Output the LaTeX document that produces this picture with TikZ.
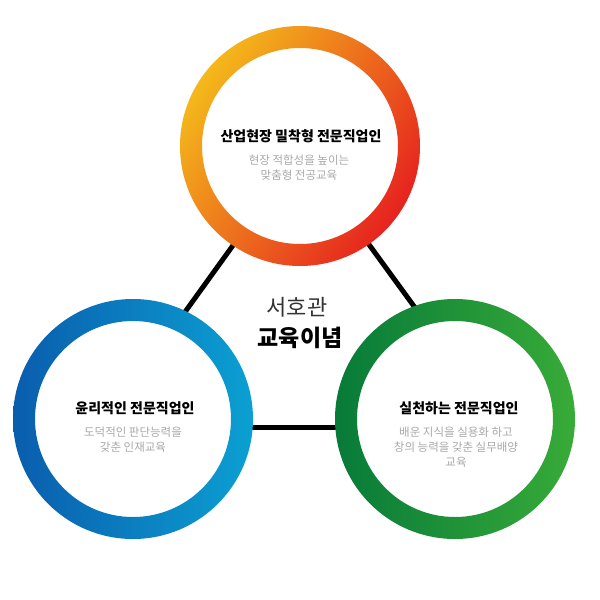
\documentclass[tikz,border=0pt]{standalone}
\usepackage{fontspec}
\setmainfont{Noto Sans CJK KR}
\usepackage{xcolor}
\usepackage{tikz}
\usetikzlibrary{positioning}
\pgfdeclarelayer{nodelayer}
\pgfdeclarelayer{edgelayer}
\pgfsetlayers{edgelayer,nodelayer,main}
\definecolor{ringyellow}{HTML}{F4B91B}
\definecolor{ringred}{HTML}{E6221F}
\definecolor{bluedark}{HTML}{0A5DAD}
\definecolor{bluelight}{HTML}{0BA0D2}
\definecolor{greendark}{HTML}{077A39}
\definecolor{greenlight}{HTML}{38AB38}
\definecolor{subgrey}{HTML}{A8A8A8}
\tikzset{
    none/.style = {inner sep=0pt},
    ring/.style = {circle, inner sep=0pt, outer sep=0pt, minimum size=240},
    title/.style = {inner sep=0pt, font=\fontsize{14}{16}\selectfont\bfseries},
    subtitle/.style = {inner sep=0pt, align=center, text=subgrey, font=\fontsize{11.5}{15}\selectfont},
    link/.style = {line width=5pt, shorten <=-3pt, shorten >=-3pt}
}

\begin{document}
\begin{tikzpicture}[x=1pt, y=1pt]
    \useasboundingbox (0, 0) rectangle (600, -600);
    \begin{pgfonlayer}{nodelayer}
        \node [style=ring] (industry) at (300, -146) {};
        \node [style=ring] (ethics) at (133, -419) {};
        \node [style=ring] (practice) at (455, -419) {};
        % gradient rings
        \shade [even odd rule, top color=ringyellow, bottom color=ringred, shading angle=55]
            (industry.center) circle (120) (industry.center) circle (98);
        \shade [even odd rule, left color=bluedark, right color=bluelight]
            (ethics.center) circle (120) (ethics.center) circle (98);
        \shade [even odd rule, left color=greendark, right color=greenlight]
            (practice.center) circle (120) (practice.center) circle (98);
        \node [style=title] (industrytitle) at (301, -136) {산업현장 밀착형 전문직업인};
        \node [style=subtitle] (industrysub) at (299, -167.5) {현장 적합성을 높이는\\맞춤형 전공교육};
        \node [style=title] (ethicstitle) at (135, -408) {윤리적인 전문직업인};
        \node [style=subtitle] (ethicssub) at (133, -440) {도덕적인 판단능력을\\갖춘 인재교육};
        \node [style=title] (practicetitle) at (459, -408) {실천하는 전문직업인};
        \node [style=subtitle] (practicesub) at (456, -447.5) {배운 지식을 실용화 하고\\창의 능력을 갖춘 실무배양\\교육};
        \node [style=none, font=\fontsize{22}{24}\selectfont, text=black!80] (hall) at (297, -307) {서호관};
        \node [style=none, font=\fontsize{23}{26}\selectfont\bfseries] (ideal) at (300, -338) {교육이념};
    \end{pgfonlayer}
    \begin{pgfonlayer}{edgelayer}
        \draw [style=link] (industry.236) to (ethics.64);
        \draw [style=link] (industry.305) to (practice.110);
        \draw [style=link] (ethics.-4) to (practice.184);
    \end{pgfonlayer}
\end{tikzpicture}
\end{document}
